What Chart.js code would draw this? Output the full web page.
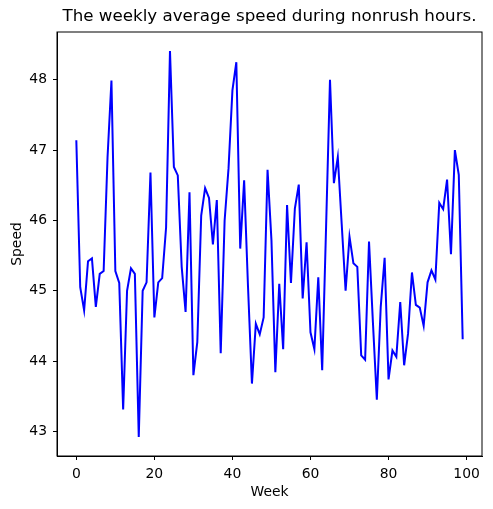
<!DOCTYPE html>
<html lang="en">
<head>
    <meta charset="UTF-8">
    <title>Weekly average speed</title>
    <script src="https://cdn.jsdelivr.net/npm/chart.js"></script>
    <style>
        body { margin: 0; background: #fff; }
        #wrap { width: 493px; height: 509px; }
    </style>
</head>
<body>
    <div id="wrap"><canvas id="speedChart"></canvas></div>
    <script>
        // weekly average speed (non-rush hours)
        var speed = [
            47.14, 45.05, 44.72, 45.42, 45.46, 44.77, 45.24, 45.28, 46.90, 47.99,
            45.28, 45.11, 43.31, 45.00, 45.32, 45.24, 42.92, 45.00, 45.12, 46.68,
            44.62, 45.12, 45.18, 45.90, 48.41, 46.76, 46.64, 45.34, 44.70, 46.40,
            43.80, 44.27, 46.07, 46.46, 46.32, 45.66, 46.29, 44.11, 46.00, 46.74,
            47.85, 48.25, 45.60, 46.57, 45.05, 43.68, 44.53, 44.38, 44.62, 46.72,
            45.72, 43.84, 45.10, 44.17, 46.22, 45.11, 46.17, 46.51, 44.89, 45.69,
            44.41, 44.17, 45.19, 43.87, 45.91, 48.00, 46.53, 46.90, 45.95, 45.00,
            45.77, 45.39, 45.34, 44.08, 44.02, 45.70, 44.55, 43.45, 44.77, 45.47,
            43.74, 44.15, 44.06, 44.84, 43.94, 44.39, 45.26, 44.80, 44.76, 44.50,
            45.12, 45.29, 45.16, 46.25, 46.16, 46.58, 45.52, 47.00, 46.65, 44.31
        ];
        var weeks = speed.map(function (v, i) { return i; });
        var weekTicks = [0, 20, 40, 60, 80, 100];
        var speedTicks = [43, 44, 45, 46, 47, 48];

        var titleText = 'The weekly average speed during nonrush hours.';
        var fontFamily = '"DejaVu Sans", sans-serif';

        // matplotlib-style frame + centred title over the axes
        var framePlugin = {
            id: 'frame',
            afterDraw: function (chart) {
                var ctx = chart.ctx, a = chart.chartArea;
                ctx.save();
                ctx.strokeStyle = '#000';
                ctx.lineWidth = 1;
                ctx.strokeRect(a.left, a.top, a.right - a.left, a.bottom - a.top);
                ctx.fillStyle = '#000';
                ctx.font = '16.7px ' + fontFamily;
                ctx.textAlign = 'center';
                ctx.textBaseline = 'middle';
                ctx.fillText(titleText, (a.left + a.right) / 2, 17);
                ctx.restore();
            }
        };

        var ctx = document.getElementById('speedChart').getContext('2d');
        var speedChart = new Chart(ctx, {
            type: 'line',
            data: {
                datasets: [{
                    label: 'Speed',
                    data: weeks.map(function (w, i) { return { x: w, y: speed[i] }; }),
                    borderColor: '#0000ff',
                    borderWidth: 2,
                    pointRadius: 0,
                    tension: 0,
                    fill: false
                }]
            },
            options: {
                responsive: true,
                maintainAspectRatio: false,
                animation: false,
                layout: { padding: { top: 32, right: 11, left: 0, bottom: 0 } },
                plugins: {
                    legend: { display: false },
                    tooltip: { enabled: false }
                },
                scales: {
                    x: {
                        type: 'linear',
                        min: -4.95,
                        max: 103.95,
                        afterBuildTicks: function (s) {
                            s.ticks = weekTicks.map(function (v) { return { value: v }; });
                        },
                        afterFit: function (s) { s.height = 53; },
                        grid: { drawOnChartArea: false, tickLength: 4, color: '#000', tickWidth: 1 },
                        border: { color: '#000' },
                        ticks: { color: '#000', padding: 6, maxRotation: 0, font: { family: fontFamily, size: 13.9 } },
                        title: {
                            display: true, text: 'Week', color: '#000',
                            padding: { top: 0, bottom: 8 },
                            font: { family: fontFamily, size: 13.9 }
                        }
                    },
                    y: {
                        min: 42.65,
                        max: 48.68,
                        afterBuildTicks: function (s) {
                            s.ticks = speedTicks.map(function (v) { return { value: v }; });
                        },
                        afterFit: function (s) { s.width = 57; },
                        grid: { drawOnChartArea: false, tickLength: 4, color: '#000', tickWidth: 1 },
                        border: { color: '#000' },
                        ticks: { color: '#000', padding: 6, font: { family: fontFamily, size: 13.9 } },
                        title: {
                            display: true, text: 'Speed', color: '#000',
                            padding: { top: 9, bottom: 0 },
                            font: { family: fontFamily, size: 13.9 }
                        }
                    }
                }
            },
            plugins: [framePlugin]
        });
    </script>
</body>
</html>
